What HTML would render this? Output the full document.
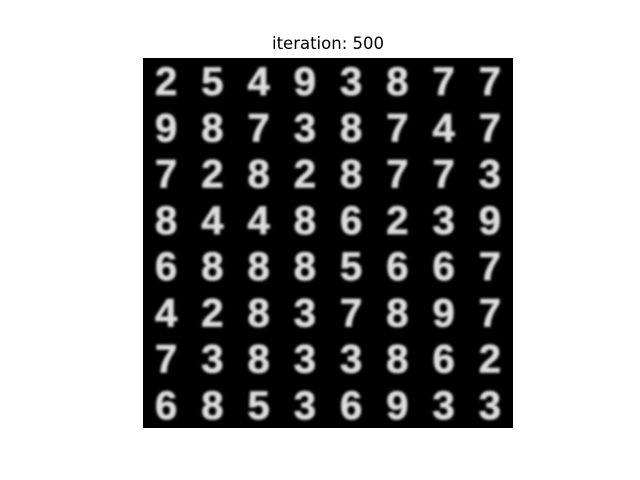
<!DOCTYPE html>
<html><head><meta charset="utf-8"><style>
html,body{margin:0;padding:0;background:#fff;}
svg{display:block;}
</style></head><body>
<svg width="640" height="480" viewBox="0 0 640 480" xmlns="http://www.w3.org/2000/svg">
<defs>
<filter id="bl" x="-20%" y="-20%" width="140%" height="140%"><feGaussianBlur stdDeviation="1.4"/></filter>
</defs>
<rect width="640" height="480" fill="#fff"/>
<text x="328" y="49" font-family="DejaVu Sans, sans-serif" font-size="16.5" text-anchor="middle" fill="#000">iteration: 500</text>
<rect x="143" y="58" width="370" height="370" fill="#000"/>
<g id="cells" filter="url(#bl)"></g>
</svg>
<script>
const digits = [
"25493877",
"98738747",
"72828773",
"84486239",
"68885667",
"42837897",
"73833862",
"68536933"];
const x0 = 143, y0 = 58, cell = 370/8;
const g = document.getElementById('cells');
digits.forEach((row, r) => {
  row.split('').forEach((d, c) => {
    const t = document.createElementNS('http://www.w3.org/2000/svg','text');
    
    
    t.setAttribute('x', x0 + (c + 0.5) * cell);
    t.setAttribute('y', y0 + (r + 0.5) * cell + 14);
    t.setAttribute('text-anchor', 'middle');
    t.setAttribute('font-family', 'Liberation Sans, sans-serif');
    t.setAttribute('font-weight', 'bold');
    t.setAttribute('font-size', '40');
    t.setAttribute('fill', '#f4f4f4');
    t.setAttribute('fill-opacity', '0.9');
    t.setAttribute('stroke', '#ffffff');
    t.setAttribute('stroke-width', '1');
    t.setAttribute('stroke-opacity', '0.5');
    t.textContent = d;
    g.appendChild(t);
  });
});
</script>
</body></html>
